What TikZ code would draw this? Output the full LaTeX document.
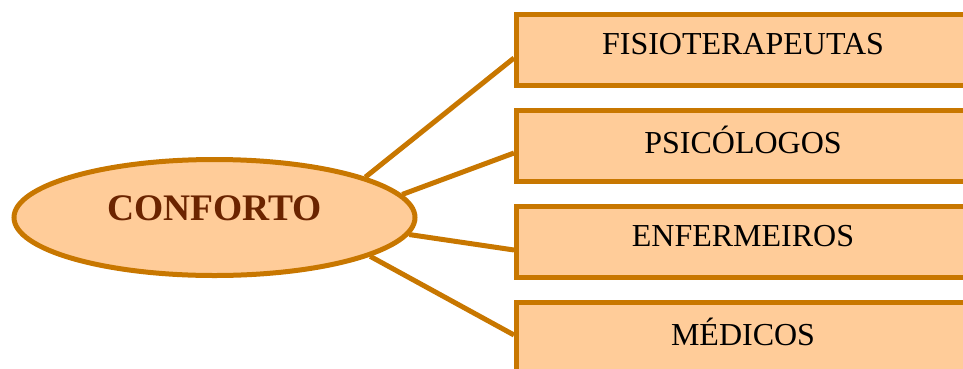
\documentclass[tikz,border=0pt]{standalone}
\usepackage{fontspec}
\setmainfont{Liberation Serif}
\usetikzlibrary{shapes.geometric}
\definecolor{peach}{HTML}{FFCC99}
\definecolor{ochre}{HTML}{C87700}
\definecolor{darkbrown}{HTML}{6B2400}
\begin{document}
\begin{tikzpicture}[x=1pt,y=-1pt,
  boxstyle/.style={draw=ochre, fill=peach, line width=5pt, rectangle,
    minimum width=453pt, minimum height=71pt, inner sep=0pt},
  boxtext/.style={font=\fontsize{32}{38}\selectfont, text=black, yshift=5.5pt},
  maintext/.style={font=\fontsize{37.5}{44}\selectfont\bfseries, text=darkbrown, yshift=9.5pt},
  link/.style={draw=ochre, line width=5pt}]
\clip (0,0) rectangle (963,368);
\useasboundingbox (0,0) rectangle (963,368);
\node[boxstyle, label={[boxtext]center:FISIOTERAPEUTAS}] (b1) at (743,50) {};
\node[boxstyle, label={[boxtext]center:PSICÓLOGOS}] (b2) at (743,145.5) {};
\node[boxstyle, label={[boxtext]center:ENFERMEIROS}] (b3) at (743,241.5) {};
\node[boxstyle, label={[boxtext]center:MÉDICOS}] (b4) at (743,337.5) {};
\node[ellipse, draw=ochre, fill=peach, line width=5pt, minimum width=401pt, minimum height=116pt, inner sep=0pt,
  label={[maintext]center:CONFORTO}] (e) at (214.5,217.5) {};
\coordinate (p1) at ([yshift=-8pt]b1.west);
\coordinate (p2) at ([yshift=-7.5pt]b2.west);
\coordinate (p3) at ([yshift=-8.5pt]b3.west);
\coordinate (p4) at ([yshift=2.5pt]b4.west);
\draw[link] (e.15.8) -- (p1);
\draw[link] (e.7.5) -- (p2);
\draw[link] (e.-5.8) -- (p3);
\draw[link] (e.-14.5) -- (p4);
\end{tikzpicture}
\end{document}
